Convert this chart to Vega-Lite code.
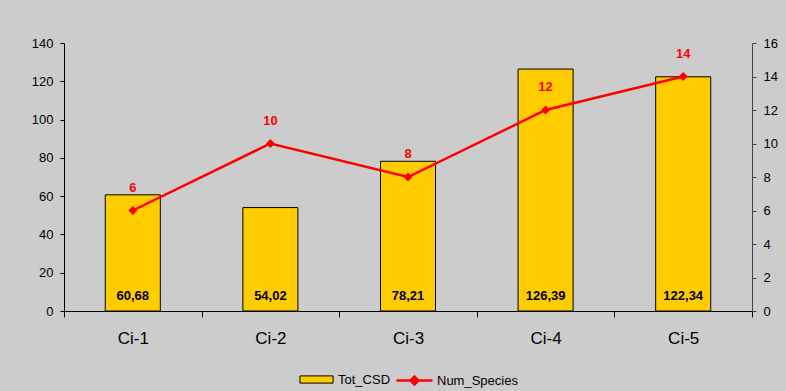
{
  "$schema": "https://vega.github.io/schema/vega-lite/v6.json",
  "width": 688,
  "height": 268,
  "autosize": {"type": "none"},
  "padding": {"left": 64, "top": 43, "right": 34, "bottom": 80},
  "background": "#CCCCCC",
  "config": {
    "view": {"stroke": null},
    "font": "Liberation Sans",
    "locale": {"number": {"decimal": ",", "thousands": ".", "grouping": [3], "currency": ["", " €"]}},
    "axis": {"grid": false, "domainColor": "black", "tickColor": "black", "labelColor": "black", "domainWidth": 1, "tickWidth": 1, "labelOverlap": false},
    "legend": {"layout": {"bottom": {"anchor": "middle", "direction": "horizontal", "margin": 4}}}
  },
  "data": {
    "values": [
      {"cat": "Ci-1", "Tot_CSD": 60.68, "Num_Species": 6},
      {"cat": "Ci-2", "Tot_CSD": 54.02, "Num_Species": 10},
      {"cat": "Ci-3", "Tot_CSD": 78.21, "Num_Species": 8},
      {"cat": "Ci-4", "Tot_CSD": 126.39, "Num_Species": 12},
      {"cat": "Ci-5", "Tot_CSD": 122.34, "Num_Species": 14}
    ]
  },
  "encoding": {
    "x": {
      "field": "cat", "type": "nominal", "sort": null,
      "scale": {"paddingInner": 0, "paddingOuter": 0},
      "axis": {"title": null, "labelAngle": 0, "labelFontSize": 17, "tickBand": "extent", "tickSize": 6, "labelPadding": 13}
    }
  },
  "layer": [
    {
      "layer": [
        {
          "mark": {"type": "bar", "stroke": "black", "strokeWidth": 1, "width": {"band": 0.4}},
          "encoding": {
            "y": {
              "field": "Tot_CSD", "type": "quantitative",
              "scale": {"domain": [0, 140], "nice": false},
              "axis": {"title": null, "values": [0, 20, 40, 60, 80, 100, 120, 140], "tickCount": 50, "format": "d", "labelFontSize": 13, "tickSize": 4, "labelPadding": 7, "labelOverlap": false}
            },
            "fill": {
              "datum": "Tot_CSD",
              "scale": {"range": ["#FFCC00"]},
              "legend": {
                "orient": "bottom", "direction": "horizontal", "title": null,
                "labelFontSize": 13, "labelColor": "black", "symbolSize": 1296,
                "symbolType": "M-0.92,-0.2L0.92,-0.2L0.92,0.2L-0.92,0.2Z",
                "symbolStrokeColor": "black", "symbolStrokeWidth": 1, "symbolOpacity": 1,
                "labelOffset": 3, "offset": 15
              }
            }
          }
        },
        {
          "mark": {"type": "text", "fontWeight": "bold", "fontSize": 13, "baseline": "alphabetic", "dy": -11, "color": "black"},
          "encoding": {
            "y": {"datum": 0, "type": "quantitative"},
            "text": {"field": "Tot_CSD", "type": "quantitative", "format": ".2f"}
          }
        }
      ]
    },
    {
      "layer": [
        {
          "mark": {"type": "line", "strokeWidth": 2.5, "color": "#FF0000"},
          "encoding": {
            "y": {
              "field": "Num_Species", "type": "quantitative",
              "scale": {"domain": [0, 16], "nice": false},
              "axis": {"orient": "right", "title": null, "values": [0, 2, 4, 6, 8, 10, 12, 14, 16], "tickCount": 50, "format": "d", "labelFontSize": 13, "tickSize": 4, "labelPadding": 7, "domainColor": "#444444", "tickColor": "#444444", "labelOverlap": false}
            }
          }
        },
        {
          "mark": {"type": "point", "shape": "diamond", "filled": true, "size": 80, "color": "#FF0000", "opacity": 1, "strokeWidth": 0},
          "encoding": {
            "y": {"field": "Num_Species", "type": "quantitative"},
            "stroke": {
              "datum": "Num_Species",
              "scale": {"range": ["#FF0000"]},
              "legend": {
                "orient": "bottom", "direction": "horizontal", "title": null,
                "labelFontSize": 13, "labelColor": "black", "symbolSize": 1296,
                "symbolType": "M-1,0L1,0M0,-0.22L0.22,0L0,0.22L-0.22,0Z",
                "symbolFillColor": "#FF0000", "symbolStrokeWidth": 2.5, "symbolOpacity": 1,
                "labelOffset": 3, "offset": 15
              }
            }
          }
        },
        {
          "mark": {"type": "text", "fontWeight": "bold", "fontSize": 13, "baseline": "alphabetic", "dy": -19, "color": "#FF0000"},
          "encoding": {
            "y": {"field": "Num_Species", "type": "quantitative"},
            "text": {"field": "Num_Species", "type": "quantitative"}
          }
        }
      ]
    }
  ],
  "resolve": {"scale": {"y": "independent"}}
}
